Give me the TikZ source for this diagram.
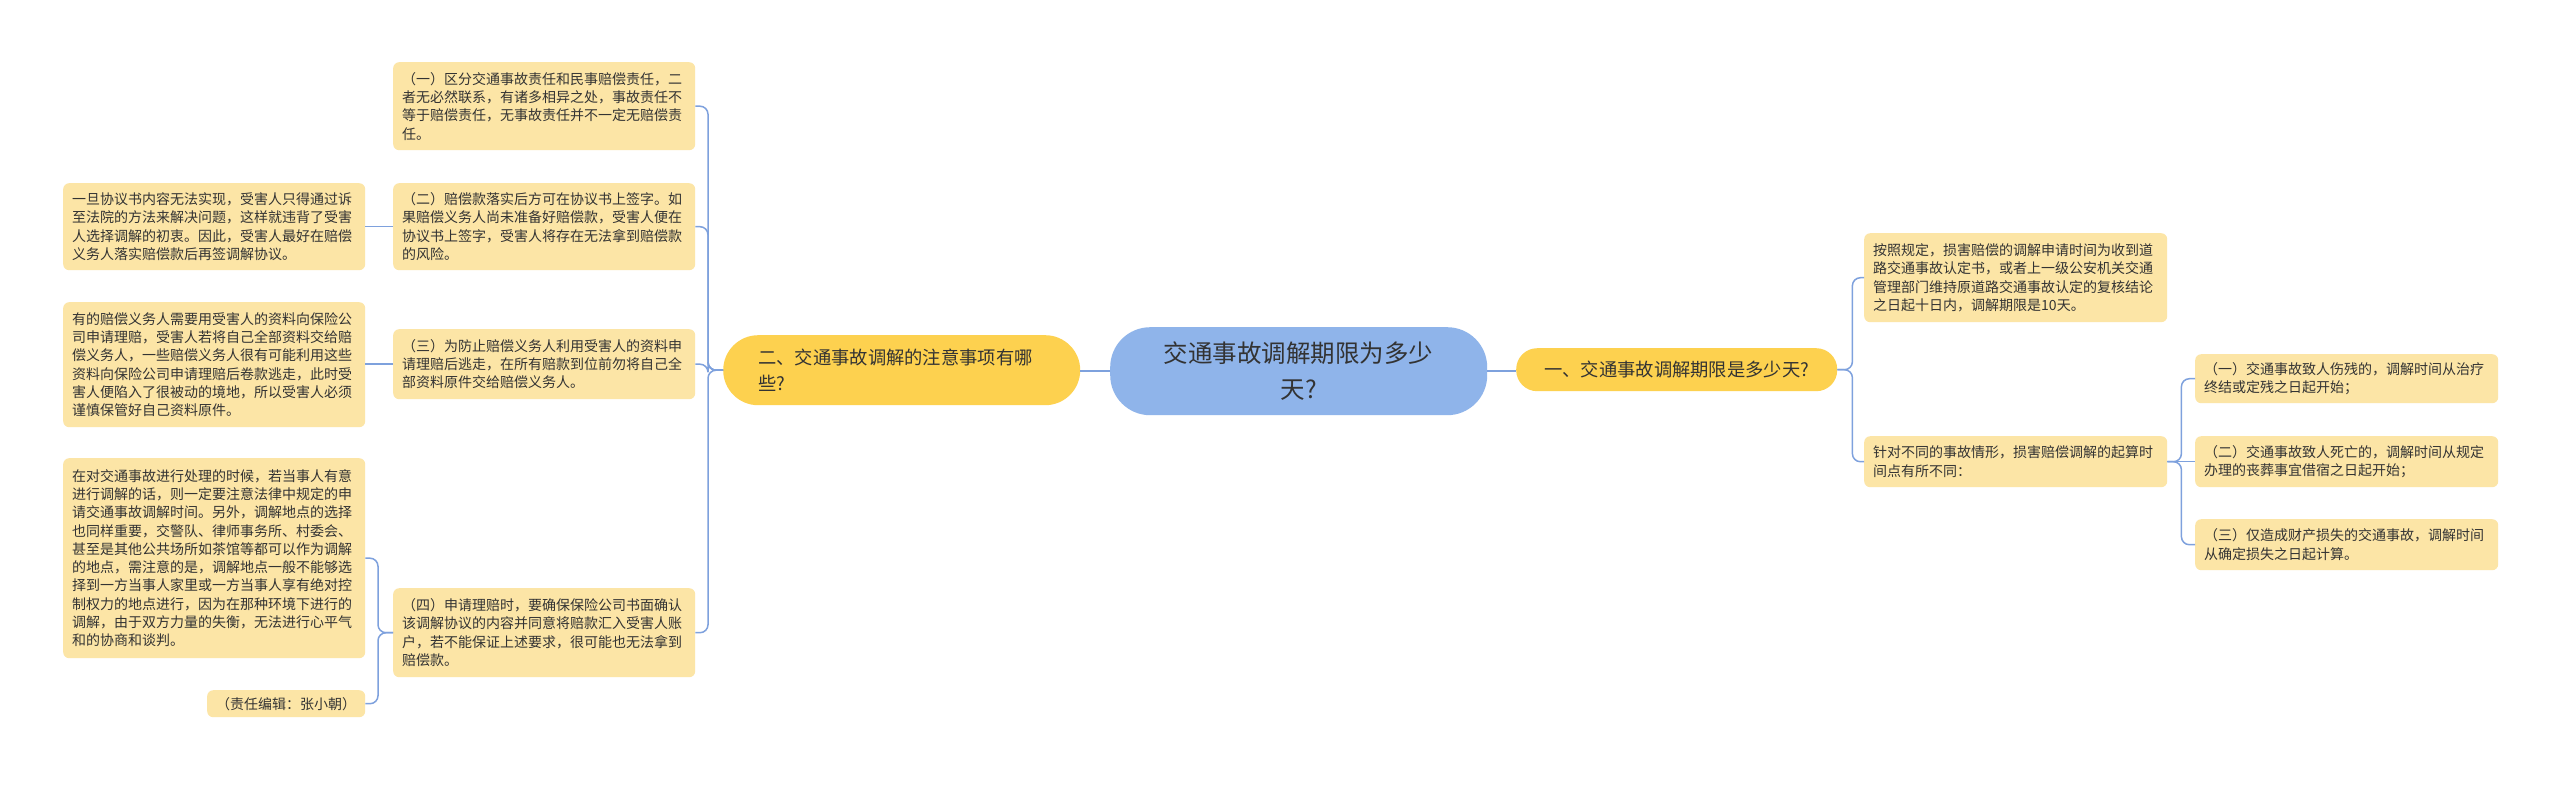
\documentclass[tikz,border=0pt]{standalone}
\usepackage{fontspec}
\newfontfamily\cjk{Noto Sans CJK SC}
\definecolor{leafc}{HTML}{FCE5A6}
\definecolor{branchc}{HTML}{FDD14F}
\definecolor{centerc}{HTML}{8FB4EA}
\definecolor{linec}{HTML}{7EA1DD}
\definecolor{textc}{HTML}{333333}
\begin{document}
\begin{tikzpicture}[x=1pt,y=-1pt,
  leaf/.style={fill=leafc, rounded corners=6pt, anchor=north west, inner xsep=9pt, inner ysep=0pt,
    align=left, font=\cjk\fontsize{14pt}{18.3pt}\selectfont, text=textc},
  branch/.style={fill=branchc, anchor=north west, inner ysep=0pt, text=textc,
    font=\cjk\fontsize{18.3pt}{26pt}\selectfont},
  conn/.style={draw=linec, line width=1.5pt, rounded corners=8pt}]
\useasboundingbox (0,0) rectangle (2560,785);
\fill[white] (0,0) rectangle (2560,785);

% centre
\node[fill=centerc, rounded corners=40pt, anchor=north west, inner xsep=10pt, inner ysep=0pt,
  text width=357pt, minimum height=88pt, align=center, text=textc,
  font=\cjk\fontsize{24.5pt}{36pt}\selectfont] (c) at (1110,327) {交通事故调解期限为多少\\天?};

% main branches
\node[branch, rounded corners=35pt, inner xsep=35pt, text width=287pt, minimum height=70pt, align=left]
  (lb) at (723,335) {二、交通事故调解的注意事项有哪\\些?};
\node[branch, rounded corners=21pt, inner xsep=10pt, text width=301pt, minimum height=43pt, align=center]
  (rb) at (1516,348) {一、交通事故调解期限是多少天?};

% right side
\node[leaf, text width=285pt, minimum height=89pt] (r1) at (1864,233)
  {按照规定，损害赔偿的调解申请时间为收到道\\路交通事故认定书，或者上一级公安机关交通\\管理部门维持原道路交通事故认定的复核结论\\之日起十日内，调解期限是10天。};
\node[leaf, text width=285pt, minimum height=51pt] (r2) at (1864,436)
  {针对不同的事故情形，损害赔偿调解的起算时\\间点有所不同：};
\node[leaf, text width=285pt, minimum height=49pt] (s1) at (2195,354)
  {（一）交通事故致人伤残的，调解时间从治疗\\终结或定残之日起开始；};
\node[leaf, text width=285pt, minimum height=51pt] (s2) at (2195,436)
  {（二）交通事故致人死亡的，调解时间从规定\\办理的丧葬事宜借宿之日起开始；};
\node[leaf, text width=285pt, minimum height=51pt] (s3) at (2195,519)
  {（三）仅造成财产损失的交通事故，调解时间\\从确定损失之日起计算。};

% left side, column 2
\node[leaf, text width=284pt, minimum height=88pt] (a1) at (393,62)
  {（一）区分交通事故责任和民事赔偿责任，二\\者无必然联系，有诸多相异之处，事故责任不\\等于赔偿责任，无事故责任并不一定无赔偿责\\任。};
\node[leaf, text width=284pt, minimum height=87pt] (a2) at (393,183)
  {（二）赔偿款落实后方可在协议书上签字。如\\果赔偿义务人尚未准备好赔偿款，受害人便在\\协议书上签字，受害人将存在无法拿到赔偿款\\的风险。};
\node[leaf, text width=284pt, minimum height=70pt] (a3) at (393,329)
  {（三）为防止赔偿义务人利用受害人的资料申\\请理赔后逃走，在所有赔款到位前勿将自己全\\部资料原件交给赔偿义务人。};
\node[leaf, text width=284pt, minimum height=89pt] (a4) at (393,588)
  {（四）申请理赔时，要确保保险公司书面确认\\该调解协议的内容并同意将赔款汇入受害人账\\户，若不能保证上述要求，很可能也无法拿到\\赔偿款。};

% left side, column 3
\node[leaf, text width=284pt, minimum height=87pt] (b2) at (63,183)
  {一旦协议书内容无法实现，受害人只得通过诉\\至法院的方法来解决问题，这样就违背了受害\\人选择调解的初衷。因此，受害人最好在赔偿\\义务人落实赔偿款后再签调解协议。};
\node[leaf, text width=284pt, minimum height=125pt] (b3) at (63,302)
  {有的赔偿义务人需要用受害人的资料向保险公\\司申请理赔，受害人若将自己全部资料交给赔\\偿义务人，一些赔偿义务人很有可能利用这些\\资料向保险公司申请理赔后卷款逃走，此时受\\害人便陷入了很被动的境地，所以受害人必须\\谨慎保管好自己资料原件。};
\node[leaf, text width=284pt, minimum height=200pt] (b4) at (63,458)
  {在对交通事故进行处理的时候，若当事人有意\\进行调解的话，则一定要注意法律中规定的申\\请交通事故调解时间。另外，调解地点的选择\\也同样重要，交警队、律师事务所、村委会、\\甚至是其他公共场所如茶馆等都可以作为调解\\的地点，需注意的是，调解地点一般不能够选\\择到一方当事人家里或一方当事人享有绝对控\\制权力的地点进行，因为在那种环境下进行的\\调解，由于双方力量的失衡，无法进行心平气\\和的协商和谈判。};
\node[leaf, text width=140pt, minimum height=27pt, align=center] (b5) at (207,690)
  {（责任编辑：张小朝）};

% connectors
\draw[conn] (c.west) -- (c.west -| lb.east);
\draw[conn] (c.east) -- (c.east -| rb.west);
\draw[conn] (rb.east) -- ++(15,0) |- (r1.west);
\draw[conn] (rb.east) -- ++(15,0) |- (r2.west);
\draw[conn] (r2.east) -- ++(14,0) |- (s1.west);
\draw[conn] (r2.east) -- (r2.east -| s2.west);
\draw[conn] (r2.east) -- ++(14,0) |- (s3.west);
\draw[conn] (lb.west) -- ++(-15,0) |- (a1.east);
\draw[conn] (lb.west) -- ++(-15,0) |- (a2.east);
\draw[conn] (lb.west) -- ++(-15,0) |- (a3.east);
\draw[conn] (lb.west) -- ++(-15,0) |- (a4.east);
\draw[conn] (a2.west) -- (a2.west -| b2.east);
\draw[conn] (a3.west) -- (a3.west -| b3.east);
\draw[conn] (a4.west) -- ++(-15,0) |- (b4.east);
\draw[conn] (a4.west) -- ++(-15,0) |- (b5.east);
\end{tikzpicture}
\end{document}
